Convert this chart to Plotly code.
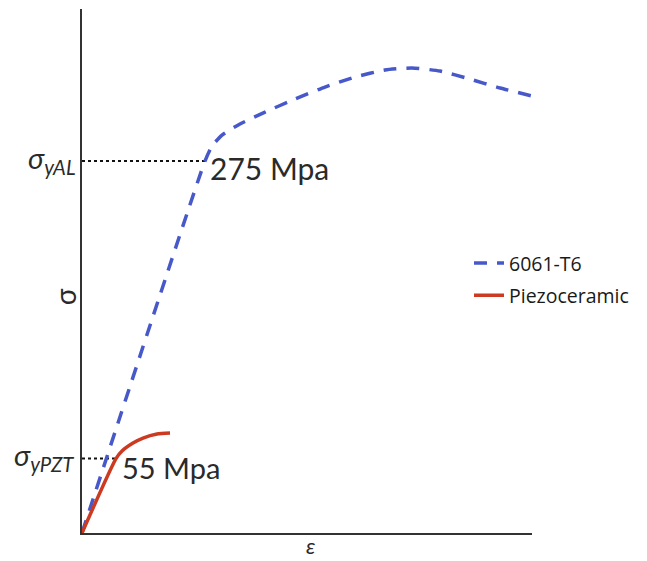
import plotly.graph_objects as go

# Data (strain in arbitrary units, stress in MPa)
al_strain = [0.0, 0.123, 0.130, 0.140, 0.158, 0.183, 0.213, 0.243, 0.273, 0.303, 0.330, 0.358, 0.388, 0.418, 0.450]
al_stress = [0.0, 275.0, 286.1, 294.2, 302.4, 311.2, 320.8, 329.7, 337.1, 342.3, 343.8, 341.5, 335.6, 329.0, 323.1]

pzt_strain = [0.0, 0.034, 0.040, 0.051, 0.061, 0.075, 0.088]
pzt_stress = [0.0, 55.0, 60.6, 66.5, 70.2, 73.2, 73.9]

al_yield = 275
pzt_yield = 55
al_yield_strain = 0.123
pzt_yield_strain = 0.034

series_names = ["6061-T6", "Piezoceramic"]
yield_labels = ["275 Mpa", "55 Mpa"]

BLUE = "#4758c9"
RED = "#cc3a22"
FONT = "Lato, Open Sans, sans-serif"
LFONT = "Open Sans, sans-serif"

fig = go.Figure()

# dotted guide lines to yield points
fig.add_trace(go.Scatter(x=[0, al_yield_strain], y=[al_yield, al_yield], mode="lines",
                         line=dict(color="#111", width=2, dash="dot"), showlegend=False, hoverinfo="skip"))
fig.add_trace(go.Scatter(x=[0, pzt_yield_strain], y=[pzt_yield, pzt_yield], mode="lines",
                         line=dict(color="#111", width=2, dash="dot"), showlegend=False, hoverinfo="skip"))

fig.add_trace(go.Scatter(x=al_strain, y=al_stress, mode="lines", name=series_names[0],
                         line=dict(color=BLUE, width=3.5, dash="13px,10px", shape="spline", smoothing=0.5),
                         legendgroup="a"))
fig.add_trace(go.Scatter(x=pzt_strain, y=pzt_stress, mode="lines", name=series_names[1],
                         line=dict(color=RED, width=3.5, shape="spline", smoothing=0.6),
                         legendgroup="b"))

annotations = [
    dict(x=al_yield_strain, y=al_yield, xref="x", yref="y", text=yield_labels[0], showarrow=False,
         xanchor="left", yanchor="middle", xshift=3, yshift=-7, font=dict(size=30, color="#2a2a2a", family=FONT)),
    dict(x=pzt_yield_strain, y=pzt_yield, xref="x", yref="y", text=yield_labels[1], showarrow=False,
         xanchor="left", yanchor="middle", xshift=4, yshift=-9, font=dict(size=29, color="#2a2a2a", family=FONT)),
    dict(x=0, y=al_yield, xref="x", yref="y", text="<i>σ</i><sub><i>yAL</i></sub>", showarrow=False,
         xanchor="right", yanchor="middle", xshift=-4, yshift=2, font=dict(size=29, color="#2a2a2a", family=FONT)),
    dict(x=0, y=pzt_yield, xref="x", yref="y", text="<i>σ</i><sub><i>yPZT</i></sub>", showarrow=False,
         xanchor="right", yanchor="middle", xshift=-6, yshift=2, font=dict(size=29, color="#2a2a2a", family=FONT)),
    dict(x=0, y=0.45, xref="paper", yref="paper", text="σ", showarrow=False, textangle=-90,
         xanchor="right", yanchor="middle", xshift=2, font=dict(size=28, color="#2a2a2a", family=FONT)),
    dict(x=0.5, y=0, xref="paper", yref="paper", text="<i>ε</i>", showarrow=False,
         xanchor="center", yanchor="bottom", xshift=3, yshift=-28, font=dict(size=22, color="#2a2a2a", family=FONT)),
]

# The page body adds an 8px offset, so the figure is sized/margined to compensate.
fig.update_layout(
    width=639, height=553,
    margin=dict(l=74, r=115, t=1, b=28),
    paper_bgcolor="white", plot_bgcolor="white",
    showlegend=True,
    legend=dict(x=0.86, y=0.552, xanchor="left", yanchor="top", bgcolor="rgba(0,0,0,0)",
                font=dict(size=19.5, color="#1a1a1a", family=LFONT), tracegroupgap=4,
                itemwidth=30),
    annotations=annotations,
    xaxis=dict(range=[0, 0.45], showgrid=False, zeroline=False, showticklabels=False, ticks="",
               showline=True, linecolor="#333", linewidth=2, mirror=False),
    yaxis=dict(range=[0, 387.4], showgrid=False, zeroline=False, showticklabels=False, ticks="",
               showline=True, linecolor="#333", linewidth=2, mirror=False),
)

fig.write_html("out.html")
